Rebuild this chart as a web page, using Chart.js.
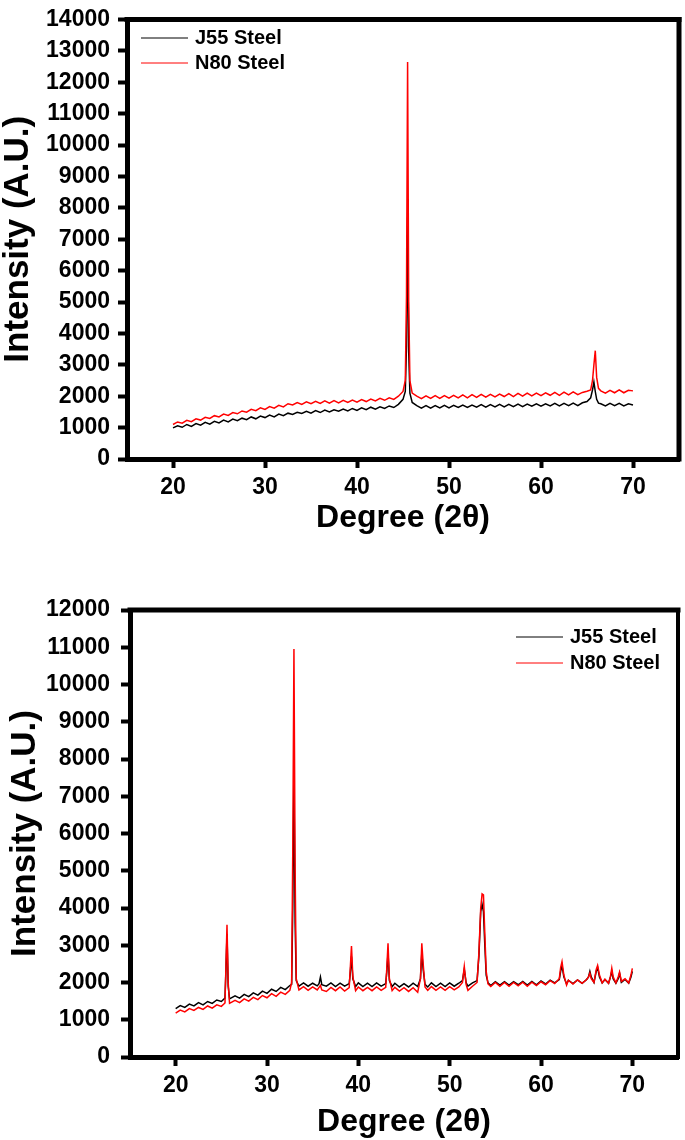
<!DOCTYPE html>
<html>
<head>
<meta charset="utf-8">
<title>XRD J55 / N80</title>
<script src="https://cdn.jsdelivr.net/npm/chart.js@4.4.0/dist/chart.umd.min.js"></script>
<style>
  html, body { margin: 0; padding: 0; background: #fff; }
  #wrap { position: relative; width: 685px; height: 1140px; }
  canvas { position: absolute; left: 0; }
  #chartTop { top: 0; }
  #chartBottom { top: 560px; }
</style>
</head>
<body>
<div id="wrap">
  <canvas id="chartTop" width="685" height="550"></canvas>
  <canvas id="chartBottom" width="685" height="580"></canvas>
</div>
<script>
// x tick labels (2 theta)
const degreeTicks = [20, 30, 40, 50, 60, 70];
const seriesNames = ['J55 Steel', 'N80 Steel'];
const seriesColors = ['#000000', '#ff0000'];

// --- top pattern ---
const topDeg = [
  20, 20.5, 21, 21.5, 22, 22.5, 23, 23.5, 24, 24.5,
  25, 25.5, 26, 26.5, 27, 27.5, 28, 28.5, 29, 29.5,
  30, 30.5, 31, 31.5, 32, 32.5, 33, 33.5, 34, 34.5,
  35, 35.5, 36, 36.5, 37, 37.5, 38, 38.5, 39, 39.5,
  40, 40.5, 41, 41.5, 42, 42.5, 43, 43.5, 44, 44.5,
  45,
  45.25, 45.38, 45.5, 45.62, 45.75, 46,
  46.5, 47, 47.5, 48, 48.5, 49, 49.5, 50, 50.5, 51,
  51.5, 52, 52.5, 53, 53.5, 54, 54.5, 55, 55.5, 56,
  56.5, 57, 57.5, 58, 58.5, 59, 59.5, 60, 60.5, 61,
  61.5, 62, 62.5, 63, 63.5, 64, 64.5, 65,
  65.4, 65.6, 65.75, 65.9, 66.05, 66.25,
  66.5, 67, 67.5, 68, 68.5, 69, 69.5, 70
];
const topJ55 = [
  990, 1060, 1010, 1100, 1040, 1130, 1080, 1170, 1110, 1200,
  1150, 1240, 1180, 1270, 1220, 1300, 1250, 1340, 1280, 1370,
  1320, 1400, 1340, 1430, 1380, 1460, 1420, 1490, 1450, 1520,
  1460, 1540, 1480, 1560, 1500, 1570, 1520, 1590, 1530, 1610,
  1550, 1630, 1570, 1650, 1590, 1660, 1610, 1690, 1640, 1740,
  1900,
  2150, 3600, 7700, 3400, 2100, 1800,
  1700, 1620, 1700, 1620, 1700, 1630, 1710, 1630, 1710, 1640,
  1720, 1640, 1720, 1650, 1730, 1650, 1730, 1660, 1740, 1660,
  1740, 1670, 1750, 1670, 1750, 1680, 1760, 1680, 1760, 1690,
  1770, 1690, 1770, 1700, 1780, 1700, 1790, 1830,
  1950, 2200, 2450, 2150, 1900, 1780,
  1760, 1690, 1770, 1700, 1770, 1690, 1760, 1720
];
const topN80 = [
  1100, 1180, 1140, 1230, 1190, 1280, 1240, 1330, 1290, 1380,
  1340, 1430, 1390, 1480, 1440, 1530, 1490, 1580, 1540, 1630,
  1580, 1670, 1620, 1710, 1660, 1760, 1720, 1800, 1740, 1820,
  1760, 1840, 1770, 1850, 1780, 1860, 1790, 1870, 1800, 1880,
  1810, 1890, 1830, 1910, 1850, 1930, 1870, 1950, 1900, 2000,
  2150,
  2500, 5200, 12650, 5000, 2500, 2100,
  2000, 1920, 2010, 1930, 2020, 1930, 2020, 1940, 2030, 1950,
  2040, 1950, 2050, 1960, 2060, 1970, 2060, 1980, 2070, 1990,
  2080, 1990, 2090, 2000, 2100, 2010, 2100, 2020, 2110, 2030,
  2120, 2030, 2130, 2040, 2140, 2050, 2120, 2160,
  2200, 2500, 3000, 3450, 2600, 2250,
  2170, 2100, 2190, 2110, 2200, 2110, 2190, 2170
];

// --- bottom pattern ---
const botDeg = [
  20, 20.5, 21, 21.5, 22, 22.5, 23, 23.5, 24, 24.5,
  25, 25.4, 25.5, 25.62, 25.75, 25.9, 26.5, 27, 27.5, 28,
  28.5, 29, 29.5, 30, 30.5, 31, 31.5, 32, 32.5, 32.7,
  32.82, 32.95, 33.08, 33.2, 33.5, 34, 34.5, 35, 35.5, 35.7,
  35.85, 36, 36.5, 37, 37.5, 38, 38.5, 39, 39.1, 39.25,
  39.4, 39.7, 40, 40.5, 41, 41.5, 42, 42.5, 43, 43.12,
  43.25, 43.4, 43.7, 44, 44.5, 45, 45.5, 46, 46.5, 46.8,
  46.95, 47.1, 47.3, 47.6, 48, 48.5, 49, 49.5, 50, 50.5,
  51, 51.4, 51.6, 51.8, 52, 52.5, 53, 53.2, 53.4, 53.55,
  53.7, 53.85, 54, 54.2, 54.5, 55, 55.5, 56, 56.5, 57,
  57.5, 58, 58.5, 59, 59.5, 60, 60.5, 61, 61.5, 62,
  62.15, 62.3, 62.5, 62.8, 63, 63.5, 64, 64.5, 65, 65.2,
  65.35, 65.5, 65.8, 66.05, 66.2, 66.4, 66.7, 67, 67.4, 67.6,
  67.75, 67.9, 68.2, 68.45, 68.6, 68.8, 69.2, 69.6, 69.85, 70
];
const botJ55 = [
  1300, 1380, 1330, 1420, 1370, 1460, 1400, 1490, 1440, 1530,
  1490, 1580, 2300, 3300, 1900, 1560, 1640, 1580, 1680, 1620,
  1720, 1660, 1770, 1710, 1820, 1760, 1870, 1810, 1920, 1950,
  4000, 7500, 3600, 2050, 1900, 1990, 1900, 1980, 1910, 1970,
  2150, 1940, 1900, 1990, 1890, 1980, 1900, 1970, 2200, 2700,
  2100, 1890, 1990, 1890, 1980, 1890, 1990, 1900, 1970, 2300,
  2800, 2050, 1890, 1980, 1880, 1970, 1880, 1980, 1890, 2100,
  2800, 2350, 1950, 1880, 1990, 1890, 1980, 1890, 1990, 1900,
  1980, 2050, 2350, 2000, 1900, 1990, 2050, 2700, 3900, 4100,
  3900, 3000, 2200, 1990, 1920, 2020, 1930, 2020, 1930, 2020,
  1940, 2030, 1930, 2030, 1940, 2040, 1960, 2060, 1990, 2080,
  2300, 2450, 2150, 1960, 2060, 1970, 2070, 1980, 2080, 2150,
  2300, 2150, 2000, 2300, 2400, 2150, 1990, 2080, 1980, 2150,
  2300, 2100, 1980, 2100, 2250, 2000, 2080, 1980, 2150, 2300
];
const botN80 = [
  1180, 1260, 1210, 1300, 1250, 1330, 1280, 1370, 1310, 1400,
  1360, 1450, 2400, 3550, 2000, 1440, 1520, 1460, 1560, 1500,
  1600, 1540, 1650, 1590, 1700, 1630, 1740, 1680, 1790, 2000,
  5500, 10950, 5000, 2100, 1800, 1890, 1790, 1880, 1800, 1870,
  1920, 1800, 1760, 1870, 1780, 1880, 1770, 1860, 2300, 2980,
  2150, 1780, 1880, 1780, 1870, 1780, 1880, 1790, 1870, 2400,
  3050, 2100, 1780, 1870, 1770, 1860, 1760, 1860, 1740, 2100,
  3050, 2500, 1880, 1790, 1890, 1790, 1880, 1790, 1890, 1800,
  1880, 2000, 2430, 1950, 1790, 1900, 2000, 2800, 4000, 4380,
  4350, 3300, 2300, 1960, 1890, 2000, 1900, 2000, 1900, 2000,
  1910, 2010, 1900, 2010, 1920, 2020, 1940, 2050, 1970, 2100,
  2400, 2560, 2200, 1930, 2060, 1960, 2070, 1980, 2080, 2150,
  2250, 2100, 2000, 2350, 2460, 2200, 1990, 2090, 1980, 2150,
  2380, 2150, 1990, 2150, 2280, 2030, 2100, 1990, 2200, 2380
];

const FONT = '"Liberation Sans", Arial, sans-serif';
Chart.defaults.font.family = FONT;
Chart.defaults.color = '#000';
Chart.defaults.animation = false;

// top and right edges of the plot box
const framePlugin = {
  id: 'frame',
  afterDraw(chart, args, opts) {
    const ctx = chart.ctx, a = chart.chartArea;
    ctx.save();
    ctx.strokeStyle = '#000';
    ctx.lineCap = 'square';
    ctx.lineWidth = opts.top;
    ctx.beginPath(); ctx.moveTo(a.left, a.top); ctx.lineTo(a.right, a.top); ctx.stroke();
    ctx.lineWidth = opts.right;
    ctx.beginPath(); ctx.moveTo(a.right, a.top); ctx.lineTo(a.right, a.bottom); ctx.stroke();
    ctx.restore();
  }
};

// legend drawn inside the plot box
const insideLegend = {
  id: 'insideLegend',
  afterDraw(chart, args, opts) {
    const ctx = chart.ctx;
    ctx.save();
    ctx.font = 'bold 20px ' + FONT;
    ctx.textBaseline = 'middle';
    ctx.fillStyle = '#000';
    chart.data.datasets.forEach((ds, i) => {
      const y = opts.y + i * opts.dy;
      ctx.strokeStyle = ds.borderColor;
      ctx.lineWidth = 1;
      ctx.beginPath(); ctx.moveTo(opts.x, y); ctx.lineTo(opts.x + opts.len, y); ctx.stroke();
      ctx.fillText(ds.label, opts.x + opts.len + opts.gap, y);
    });
    ctx.restore();
  }
};

function axisStyle() {
  return {
    border: { width: 5, color: '#000' },
    grid: { drawOnChartArea: false, tickLength: 9, tickWidth: 4, tickColor: '#000' }
  };
}

function makeChart(id, deg, j55, n80, cfg) {
  return new Chart(document.getElementById(id), {
    type: 'line',
    data: {
      datasets: [
        { label: seriesNames[0], data: deg.map((x, i) => ({ x: x, y: j55[i] })),
          borderColor: seriesColors[0], order: 1 },
        { label: seriesNames[1], data: deg.map((x, i) => ({ x: x, y: n80[i] })),
          borderColor: seriesColors[1], order: 0 }
      ]
    },
    options: {
      responsive: false,
      layout: { padding: { top: cfg.top, right: cfg.right, left: 0, bottom: 0 } },
      elements: { line: { borderWidth: 1.5, tension: 0 }, point: { radius: 0 } },
      plugins: {
        legend: { display: false },
        tooltip: { enabled: false },
        frame: cfg.frame,
        insideLegend: cfg.legend
      },
      scales: {
        x: Object.assign(axisStyle(), {
          type: 'linear', min: 15, max: 75,
          afterFit: s => { s.height = cfg.xHeight; },
          afterBuildTicks: s => { s.ticks = degreeTicks.map(v => ({ value: v })); },
          ticks: { padding: 8, font: { size: 23, weight: 'bold', lineHeight: 1 }, callback: v => String(v) },
          title: { display: true, text: 'Degree (2θ)',
                   font: { size: 32, weight: 'bold', lineHeight: 1 },
                   padding: { top: 0, bottom: cfg.xTitlePad } }
        }),
        y: Object.assign(axisStyle(), {
          type: 'linear', min: 0, max: cfg.yMax,
          afterFit: s => { s.width = cfg.yWidth; },
          ticks: { stepSize: 1000, autoSkip: false, padding: cfg.yTickPad,
                   font: { size: 23, weight: 'bold', lineHeight: 1 }, callback: v => String(v) },
          title: { display: true, text: 'Intensity (A.U.)',
                   font: { size: 35, weight: 'bold', lineHeight: 1 },
                   padding: { top: cfg.yTitlePad, bottom: 0 } }
        })
      }
    },
    plugins: [framePlugin, insideLegend]
  });
}

makeChart('chartTop', topDeg, topJ55, topN80, {
  top: 13, right: 6, xHeight: 91, yWidth: 127, yMax: 14000,
  yTickPad: 8, yTitlePad: 1, xTitlePad: 16,
  frame: { top: 5, right: 5 },
  legend: { x: 141, y: 38, dy: 25, len: 47, gap: 7 }
});

makeChart('chartBottom', botDeg, botJ55, botN80, {
  top: 50, right: 7, xHeight: 83, yWidth: 130, yMax: 12000,
  yTickPad: 11, yTitlePad: 8, xTitlePad: 2,
  frame: { top: 5, right: 4 },
  legend: { x: 516, y: 77, dy: 26, len: 47, gap: 7 }
});
</script>
</body>
</html>
